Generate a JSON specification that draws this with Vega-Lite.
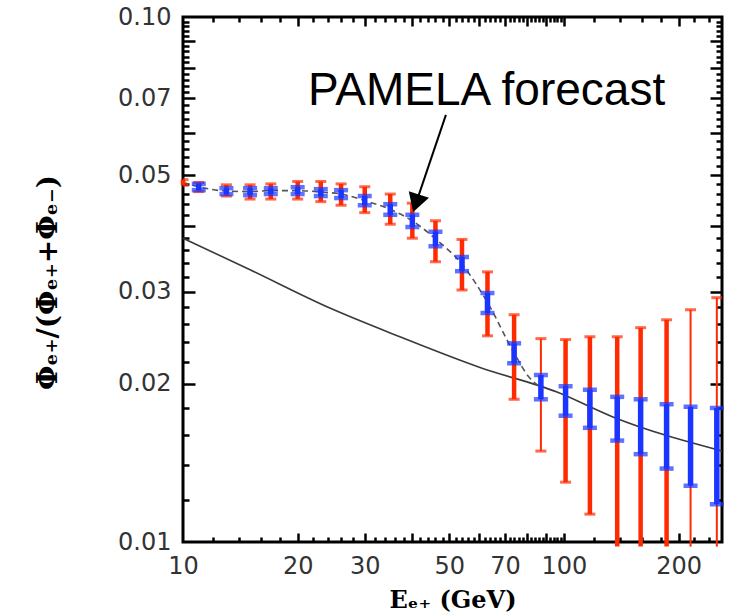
{
  "$schema": "https://vega.github.io/schema/vega-lite/v6.json",
  "width": 539,
  "height": 525,
  "autosize": "none",
  "padding": {"left": 183, "top": 17, "right": 9, "bottom": 73},
  "background": "white",
  "config": {
    "view": {"stroke": "black", "strokeWidth": 3},
    "axis": {
      "grid": false,
      "domain": false,
      "tickColor": "black",
      "tickWidth": 2.5,
      "labelFont": "DejaVu Sans",
      "labelFontSize": 24,
      "labelColor": "#333333",
      "titleFont": "DejaVu Serif",
      "titleFontWeight": "bold",
      "titleFontSize": 24,
      "titleColor": "black",
      "labelFlush": false,
      "labelOverlap": false,
      "labelBound": false
    }
  },
  "resolve": {"axis": {"x": "independent", "y": "independent"}},
  "datasets": {
    "points": [
      {"E": 10, "blue": null, "blue_lo": null, "blue_hi": null, "red_lo": 0.0478, "red_hi": 0.0490},
      {"E": 11, "blue": 0.0475, "blue_lo": 0.0468, "blue_hi": 0.0481, "red_lo": 0.0465, "red_hi": 0.0484},
      {"E": 13, "blue": 0.0466, "blue_lo": 0.0460, "blue_hi": 0.0472, "red_lo": 0.0456, "red_hi": 0.0479},
      {"E": 15, "blue": 0.0465, "blue_lo": 0.0458, "blue_hi": 0.0472, "red_lo": 0.0450, "red_hi": 0.0479},
      {"E": 17, "blue": 0.0467, "blue_lo": 0.0460, "blue_hi": 0.0472, "red_lo": 0.0450, "red_hi": 0.0481},
      {"E": 20, "blue": 0.0467, "blue_lo": 0.0460, "blue_hi": 0.0474, "red_lo": 0.0450, "red_hi": 0.0486},
      {"E": 23, "blue": 0.0464, "blue_lo": 0.0456, "blue_hi": 0.0470, "red_lo": 0.0445, "red_hi": 0.0486},
      {"E": 26, "blue": 0.0460, "blue_lo": 0.0452, "blue_hi": 0.0468, "red_lo": 0.0438, "red_hi": 0.0481},
      {"E": 30, "blue": 0.0447, "blue_lo": 0.0438, "blue_hi": 0.0456, "red_lo": 0.0424, "red_hi": 0.0475},
      {"E": 35, "blue": 0.0430, "blue_lo": 0.0420, "blue_hi": 0.0440, "red_lo": 0.0403, "red_hi": 0.0460},
      {"E": 40, "blue": 0.0409, "blue_lo": 0.0398, "blue_hi": 0.0420, "red_lo": 0.0379, "red_hi": 0.0442},
      {"E": 46, "blue": 0.0378, "blue_lo": 0.0366, "blue_hi": 0.0390, "red_lo": 0.0342, "red_hi": 0.0409},
      {"E": 54, "blue": 0.0338, "blue_lo": 0.0328, "blue_hi": 0.0349, "red_lo": 0.0302, "red_hi": 0.0377},
      {"E": 63, "blue": 0.0286, "blue_lo": 0.0273, "blue_hi": 0.0298, "red_lo": 0.0247, "red_hi": 0.0327},
      {"E": 74, "blue": 0.0229, "blue_lo": 0.0219, "blue_hi": 0.0239, "red_lo": 0.0187, "red_hi": 0.0271},
      {"E": 87, "blue": 0.0197, "blue_lo": 0.0187, "blue_hi": 0.0208, "red_lo": 0.0149, "red_hi": 0.0244},
      {"E": 101, "blue": 0.0186, "blue_lo": 0.0174, "blue_hi": 0.0198, "red_lo": 0.0130, "red_hi": 0.0243},
      {"E": 117, "blue": 0.0179, "blue_lo": 0.0165, "blue_hi": 0.0195, "red_lo": 0.0113, "red_hi": 0.0246},
      {"E": 138, "blue": 0.0172, "blue_lo": 0.0156, "blue_hi": 0.0189, "red_lo": 0.0098, "red_hi": 0.0246},
      {"E": 159, "blue": 0.0165, "blue_lo": 0.0147, "blue_hi": 0.0187, "red_lo": 0.0098, "red_hi": 0.0256},
      {"E": 186, "blue": 0.0159, "blue_lo": 0.0138, "blue_hi": 0.0183, "red_lo": 0.0098, "red_hi": 0.0265},
      {"E": 215, "blue": 0.0153, "blue_lo": 0.0128, "blue_hi": 0.0181, "red_lo": 0.0098, "red_hi": 0.0277},
      {"E": 252, "blue": 0.0146, "blue_lo": 0.0118, "blue_hi": 0.0180, "red_lo": 0.0098, "red_hi": 0.0292}
    ],
    "background": [
      {"E": 10, "f": 0.0379},
      {"E": 15, "f": 0.0330},
      {"E": 24.3, "f": 0.0279},
      {"E": 37.1, "f": 0.0246},
      {"E": 60.2, "f": 0.0215},
      {"E": 95.9, "f": 0.0193},
      {"E": 134.5, "f": 0.0173},
      {"E": 260, "f": 0.0149}
    ],
    "total": [
      {"E": 10, "f": 0.0484},
      {"E": 11, "f": 0.0475},
      {"E": 13, "f": 0.0466},
      {"E": 15, "f": 0.0465},
      {"E": 17, "f": 0.0467},
      {"E": 20, "f": 0.0467},
      {"E": 23, "f": 0.0464},
      {"E": 26, "f": 0.0460},
      {"E": 30, "f": 0.0447},
      {"E": 35, "f": 0.0430},
      {"E": 40, "f": 0.0409},
      {"E": 46, "f": 0.0378},
      {"E": 54, "f": 0.0338},
      {"E": 63, "f": 0.0286},
      {"E": 74, "f": 0.0229},
      {"E": 81, "f": 0.0206},
      {"E": 87, "f": 0.0197}
    ],
    "arrow": [
      {"E": 49.0, "f": 0.0651},
      {"E": 40.9, "f": 0.0442}
    ],
    "note": [
      {"E": 21.3, "f": 0.068, "label": "PAMELA forecast"}
    ]
  },
  "layer": [
    {
      "data": {"name": "background"},
      "mark": {"type": "line", "color": "#3a3a3a", "strokeWidth": 1.6, "interpolate": "monotone"},
      "encoding": {
        "x": {
          "field": "E", "type": "quantitative",
          "scale": {"type": "log", "domain": [10, 260], "nice": false},
          "axis": {
            "orient": "bottom",
            "values": [10, 20, 30, 50, 70, 100, 200],
            "format": "d",
            "ticks": false,
            "labelPadding": 12,
            "title": "Eₑ₊ (GeV)",
            "titleY": 65,
            "titleBaseline": "alphabetic"
          }
        },
        "y": {
          "field": "f", "type": "quantitative",
          "scale": {"type": "log", "domain": [0.01, 0.1], "nice": false},
          "axis": {
            "orient": "left",
            "values": [0.01, 0.02, 0.03, 0.05, 0.07, 0.1],
            "format": ".2f",
            "ticks": false,
            "labelPadding": 12,
            "title": "Φₑ₊/(Φₑ₊+Φₑ₋)",
            "titleFontSize": 28,
            "titleX": -135,
            "titleY": 265,
            "titleAngle": 270,
            "titleAlign": "center",
            "titleBaseline": "middle"
          }
        }
      }
    },
    {
      "data": {"name": "total"},
      "mark": {"type": "line", "color": "#555555", "strokeWidth": 1.6, "strokeDash": [6, 4], "interpolate": "monotone"},
      "encoding": {
        "x": {
          "field": "E", "type": "quantitative",
          "scale": {"type": "log", "domain": [10, 260], "nice": false},
          "axis": {
            "orient": "bottom",
            "values": [20, 30, 40, 50, 60, 70, 80, 90, 100, 200],
            "labels": false, "tickSize": -9, "title": null
          }
        },
        "y": {
          "field": "f", "type": "quantitative",
          "scale": {"type": "log", "domain": [0.01, 0.1], "nice": false},
          "axis": {
            "orient": "left",
            "values": [0.02, 0.03, 0.04, 0.05, 0.06, 0.07, 0.08, 0.09],
            "labels": false, "tickSize": -12, "title": null
          }
        }
      }
    },
    {
      "data": {"name": "points"},
      "mark": {"type": "rule", "color": "#ff2a00"},
      "encoding": {
        "x": {
          "field": "E", "type": "quantitative",
          "scale": {"type": "log", "domain": [10, 260], "nice": false},
          "axis": {
            "orient": "bottom",
            "values": [12, 14, 16, 18, 22, 24, 26, 28, 32, 34, 36, 38, 42, 44, 46, 48, 52, 54, 56, 58, 62, 64, 66, 68, 72, 74, 76, 78, 82, 84, 86, 88, 92, 94, 96, 98, 120, 140, 160, 180, 220, 240],
            "labels": false, "tickSize": -5, "title": null
          }
        },
        "y": {
          "field": "red_lo", "type": "quantitative",
          "scale": {"type": "log", "domain": [0.01, 0.1], "nice": false},
          "axis": {
            "orient": "left",
            "values": [0.012, 0.014, 0.016, 0.018, 0.022, 0.024, 0.026, 0.028, 0.032, 0.034, 0.036, 0.038, 0.042, 0.044, 0.046, 0.048, 0.052, 0.054, 0.056, 0.058, 0.062, 0.064, 0.066, 0.068, 0.072, 0.074, 0.076, 0.078, 0.082, 0.084, 0.086, 0.088, 0.092, 0.094, 0.096, 0.098],
            "labels": false, "tickSize": -6, "title": null
          }
        },
        "y2": {"field": "red_hi"},
        "strokeWidth": {
          "condition": {"test": "(datum.E > 80 && datum.E < 95) || datum.E > 200", "value": 2},
          "value": 4.5
        }
      }
    },
    {
      "data": {"name": "points"},
      "mark": {"type": "tick", "orient": "horizontal", "color": "#ff2a00", "size": 11, "thickness": 3, "clip": true},
      "encoding": {
        "x": {
          "field": "E", "type": "quantitative",
          "scale": {"type": "log", "domain": [10, 260], "nice": false},
          "axis": {
            "orient": "top",
            "values": [20, 30, 40, 50, 60, 70, 80, 90, 100, 200],
            "labels": false, "tickSize": -9, "title": null
          }
        },
        "y": {
          "field": "red_hi", "type": "quantitative",
          "scale": {"type": "log", "domain": [0.01, 0.1], "nice": false},
          "axis": {
            "orient": "right",
            "values": [0.02, 0.03, 0.04, 0.05, 0.06, 0.07, 0.08, 0.09],
            "labels": false, "tickSize": -12, "title": null
          }
        }
      }
    },
    {
      "data": {"name": "points"},
      "transform": [{"filter": "datum.red_lo >= 0.01"}],
      "mark": {"type": "tick", "orient": "horizontal", "color": "#ff2a00", "size": 11, "thickness": 3, "clip": true},
      "encoding": {
        "x": {
          "field": "E", "type": "quantitative",
          "scale": {"type": "log", "domain": [10, 260], "nice": false},
          "axis": {
            "orient": "top",
            "values": [12, 14, 16, 18, 22, 24, 26, 28, 32, 34, 36, 38, 42, 44, 46, 48, 52, 54, 56, 58, 62, 64, 66, 68, 72, 74, 76, 78, 82, 84, 86, 88, 92, 94, 96, 98, 120, 140, 160, 180, 220, 240],
            "labels": false, "tickSize": -5, "title": null
          }
        },
        "y": {
          "field": "red_lo", "type": "quantitative",
          "scale": {"type": "log", "domain": [0.01, 0.1], "nice": false},
          "axis": {
            "orient": "right",
            "values": [0.012, 0.014, 0.016, 0.018, 0.022, 0.024, 0.026, 0.028, 0.032, 0.034, 0.036, 0.038, 0.042, 0.044, 0.046, 0.048, 0.052, 0.054, 0.056, 0.058, 0.062, 0.064, 0.066, 0.068, 0.072, 0.074, 0.076, 0.078, 0.082, 0.084, 0.086, 0.088, 0.092, 0.094, 0.096, 0.098],
            "labels": false, "tickSize": -6, "title": null
          }
        }
      }
    },
    {
      "data": {"name": "points"},
      "transform": [{"filter": "datum.blue != null"}],
      "mark": {"type": "rule", "color": "#1a35ff", "strokeWidth": 5.5},
      "encoding": {
        "x": {"field": "E", "type": "quantitative", "scale": {"type": "log", "domain": [10, 260], "nice": false}, "axis": null},
        "y": {"field": "blue_lo", "type": "quantitative", "scale": {"type": "log", "domain": [0.01, 0.1], "nice": false}, "axis": null},
        "y2": {"field": "blue_hi"}
      }
    },
    {
      "data": {"name": "points"},
      "transform": [{"filter": "datum.blue != null"}],
      "mark": {"type": "tick", "orient": "horizontal", "color": "#1a35ff", "size": 14, "thickness": 4.5},
      "encoding": {
        "x": {"field": "E", "type": "quantitative", "scale": {"type": "log", "domain": [10, 260], "nice": false}, "axis": null},
        "y": {"field": "blue_hi", "type": "quantitative", "scale": {"type": "log", "domain": [0.01, 0.1], "nice": false}, "axis": null}
      }
    },
    {
      "data": {"name": "points"},
      "transform": [{"filter": "datum.blue != null"}],
      "mark": {"type": "tick", "orient": "horizontal", "color": "#1a35ff", "size": 14, "thickness": 4.5},
      "encoding": {
        "x": {"field": "E", "type": "quantitative", "scale": {"type": "log", "domain": [10, 260], "nice": false}, "axis": null},
        "y": {"field": "blue_lo", "type": "quantitative", "scale": {"type": "log", "domain": [0.01, 0.1], "nice": false}, "axis": null}
      }
    },
    {
      "data": {"name": "arrow"},
      "mark": {"type": "line", "color": "black", "strokeWidth": 2},
      "encoding": {
        "x": {"field": "E", "type": "quantitative", "scale": {"type": "log", "domain": [10, 260], "nice": false}, "axis": null},
        "y": {"field": "f", "type": "quantitative", "scale": {"type": "log", "domain": [0.01, 0.1], "nice": false}, "axis": null}
      }
    },
    {
      "data": {"name": "arrow"},
      "transform": [{"filter": "datum.f < 0.05"}],
      "mark": {"type": "point", "shape": "triangle-up", "filled": true, "color": "black", "opacity": 1, "size": 450, "angle": 198},
      "encoding": {
        "x": {"field": "E", "type": "quantitative", "scale": {"type": "log", "domain": [10, 260], "nice": false}, "axis": null},
        "y": {"field": "f", "type": "quantitative", "scale": {"type": "log", "domain": [0.01, 0.1], "nice": false}, "axis": null}
      }
    },
    {
      "data": {"name": "note"},
      "mark": {"type": "text", "font": "Liberation Sans", "fontSize": 46, "color": "black", "align": "left", "baseline": "alphabetic"},
      "encoding": {
        "x": {"field": "E", "type": "quantitative", "scale": {"type": "log", "domain": [10, 260], "nice": false}, "axis": null},
        "y": {"field": "f", "type": "quantitative", "scale": {"type": "log", "domain": [0.01, 0.1], "nice": false}, "axis": null},
        "text": {"field": "label"}
      }
    }
  ]
}
